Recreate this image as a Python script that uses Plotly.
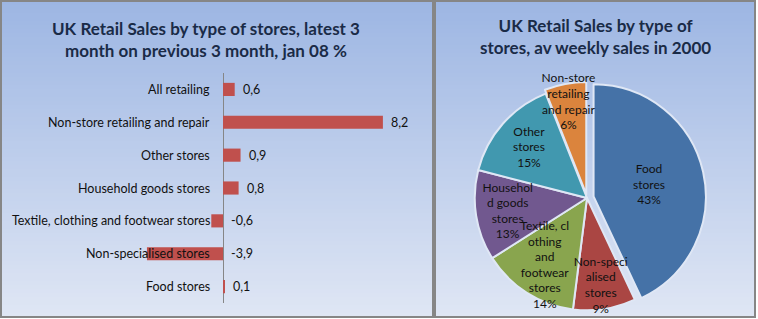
import plotly.graph_objects as go

W, H = 758, 319

# ---- data ----
bar_categories = ["All retailing", "Non-store retailing and repair", "Other stores",
                  "Household goods stores", "Textile, clothing and footwear stores",
                  "Non-specialised stores", "Food stores"]
bar_values = [0.6, 8.2, 0.9, 0.8, -0.6, -3.9, 0.1]

pie_labels = ["Food stores", "Non-specialised stores", "Textile, clothing and footwear stores",
              "Household goods stores", "Other stores", "Non-store retailing and repair"]
pie_values = [43, 9, 14, 13, 15, 6]
pie_wrapped = ["Food<br>stores", "Non-speci<br>alised<br>stores", "Textile, cl<br>othing<br>and<br>footwear<br>stores",
               "Househol<br>d goods<br>stores", "Other<br>stores", "Non-store<br>retailing<br>and repair"]
pie_colors = ["#4572a7", "#aa4643", "#89a54e", "#71588f", "#4198af", "#db843d"]
pie_pull = [0.06, 0, 0, 0, 0, 0.035]

left_title = "UK Retail Sales by type of stores, latest 3<br>month on previous 3 month, jan 08 %"
right_title = "UK Retail Sales by type of<br>stores, av weekly sales in 2000"

FONT = "Lato"
TITLE_COLOR = "#1a2b47"

def px_x(p):
    return p / W

def px_y(p):
    return (H - p) / H

fig = go.Figure()

fig.add_trace(go.Bar(
    x=bar_values, y=bar_categories, orientation="h", width=0.4,
    marker=dict(color="#c0504d", line=dict(width=0)),
    hoverinfo="skip", showlegend=False,
))

pie_domain = dict(x=[px_x(468), px_x(706)], y=[px_y(317), px_y(79)])
# slices
fig.add_trace(go.Pie(
    labels=pie_labels, values=pie_values, textinfo="none",
    marker=dict(colors=pie_colors, line=dict(color="#dfe7f5", width=2)),
    pull=pie_pull, sort=False, direction="clockwise", rotation=0,
    domain=pie_domain, showlegend=False, hoverinfo="skip",
))
# labels drawn on top of all slices
fig.add_trace(go.Pie(
    labels=pie_labels, values=pie_values, text=pie_wrapped,
    texttemplate="%{text}<br>%{percent:.0%}", textposition="inside",
    insidetextorientation="horizontal",
    textfont=dict(family=FONT, size=12, color="#111111"),
    marker=dict(colors=["rgba(0,0,0,0)"] * len(pie_values), line=dict(width=0)),
    pull=pie_pull, sort=False, direction="clockwise", rotation=0,
    domain=pie_domain, showlegend=False, hoverinfo="skip",
))

shapes = []
# gradient backgrounds for both panels
panels = [(1, 433), (435, 755)]
top_c = (157, 182, 227)
bot_c = (223, 230, 244)
y_top, y_bot = 1, 317
n = 79
for (x0, x1) in panels:
    for i in range(n):
        t = i / (n - 1)
        c = tuple(int(round(top_c[k] + (bot_c[k] - top_c[k]) * t)) for k in range(3))
        ya = y_top + (y_bot - y_top) * i / n
        yb = y_top + (y_bot - y_top) * (i + 1) / n + 0.6
        shapes.append(dict(type="rect", xref="paper", yref="paper", layer="below",
                           x0=px_x(x0), x1=px_x(x1), y0=px_y(yb), y1=px_y(ya),
                           fillcolor="rgb(%d,%d,%d)" % c, line=dict(width=0)))
    shapes.append(dict(type="rect", xref="paper", yref="paper", layer="above",
                       x0=px_x(x0), x1=px_x(x1), y0=px_y(y_bot), y1=px_y(y_top),
                       fillcolor="rgba(0,0,0,0)", line=dict(color="#868686", width=2)))

annotations = []
# category labels next to the zero axis
for c in bar_categories:
    annotations.append(dict(x=0, y=c, xref="x", yref="y", text=c, showarrow=False,
                            xanchor="right", xshift=-11,
                            font=dict(family=FONT, size=12.5, color="#111111")))
# value labels
for c, v in zip(bar_categories, bar_values):
    annotations.append(dict(x=max(v, 0), y=c, xref="x", yref="y",
                            text=("%.1f" % v).replace(".", ","), showarrow=False,
                            xanchor="left", xshift=6,
                            font=dict(family=FONT, size=12.5, color="#111111")))
# titles
annotations.append(dict(x=px_x(206), y=px_y(40), xref="paper", yref="paper", text=left_title,
                        showarrow=False, xanchor="center", yanchor="middle",
                        font=dict(family=FONT, size=17, color=TITLE_COLOR, weight="bold")))
annotations.append(dict(x=px_x(595), y=px_y(36), xref="paper", yref="paper", text=right_title,
                        showarrow=False, xanchor="center", yanchor="middle",
                        font=dict(family=FONT, size=17, color=TITLE_COLOR, weight="bold")))

fig.update_layout(
    width=W, height=H, margin=dict(l=0, r=0, t=0, b=0),
    paper_bgcolor="white", plot_bgcolor="rgba(0,0,0,0)",
    xaxis=dict(domain=[px_x(20), px_x(420)], range=[-203 / 19.5, 197 / 19.5],
               showgrid=False, showticklabels=False, ticks="",
               zeroline=True, zerolinecolor="#868686", zerolinewidth=1, fixedrange=True),
    yaxis=dict(domain=[px_y(303), px_y(73)], autorange="reversed", showgrid=False,
               showticklabels=False, ticks="", zeroline=False, fixedrange=True),
    uniformtext=dict(minsize=12, mode="show"),
    shapes=shapes, annotations=annotations, bargap=0.6,
)

fig.write_html("out.html")
